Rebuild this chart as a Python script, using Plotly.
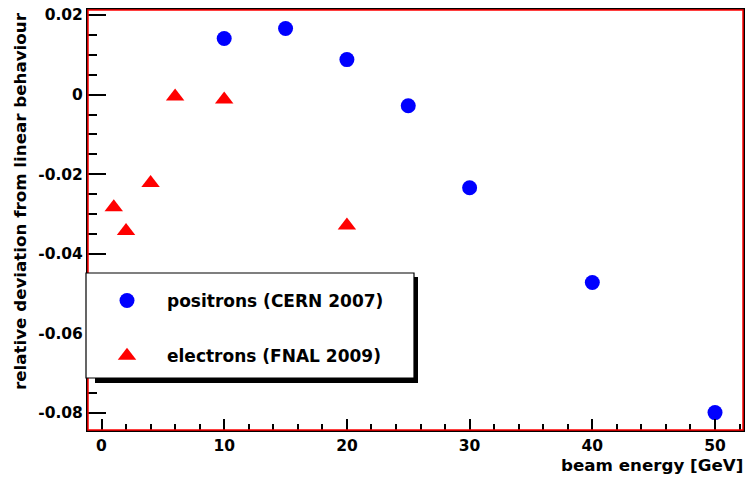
import plotly.graph_objects as go

# Data
pos_energy = [10, 15, 20, 25, 30, 40, 50]
pos_dev = [0.0141, 0.0166, 0.0088, -0.0028, -0.0234, -0.0472, -0.0799]

ele_energy = [1, 2, 4, 6, 10, 20]
ele_dev = [-0.0283, -0.0343, -0.0222, -0.0005, -0.0012, -0.0329]

pos_label = "positrons (CERN 2007)"
ele_label = "electrons (FNAL 2009)"
x_title = "beam energy [GeV]"
y_title = "relative deviation from linear behaviour"

x_tick_vals = [0, 10, 20, 30, 40, 50]
x_tick_text = ["0", "10", "20", "30", "40", "50"]
y_tick_vals = [0.02, 0, -0.02, -0.04, -0.06, -0.08]
y_tick_text = ["0.02", "0", "-0.02", "-0.04", "-0.06", "-0.08"]

FONT = "DejaVu Sans"
W, H = 746, 477
ML, MR, MT, MB = 88, 3, 10, 47
PW, PH = W - ML - MR, H - MT - MB


def px(x):
    return (x - ML) / PW


def py(y):
    return (H - MB - y) / PH


fig = go.Figure()
fig.add_trace(go.Scatter(
    x=pos_energy, y=pos_dev, mode="markers", name=pos_label,
    legendgroup="a",
    marker=dict(symbol="circle", size=15, color="#0000ff"),
))
fig.add_trace(go.Scatter(
    x=ele_energy, y=ele_dev, mode="markers", name=ele_label,
    legendgroup="b",
    marker=dict(symbol="triangle-up", size=16, color="#ff0000"),
))

tickfont = dict(family=FONT, size=15.5, color="black", weight="bold")

fig.update_xaxes(
    range=[-1.1, 52.28], tickvals=x_tick_vals, ticktext=x_tick_text,
    ticks="inside", ticklen=11,
    tickwidth=2, tickcolor="black", showgrid=False, zeroline=False,
    showline=True, linecolor="black", linewidth=2, mirror=True,
    tickfont=tickfont, automargin=False,
    minor=dict(dtick=2, tick0=0, ticks="inside", ticklen=6, tickwidth=2, tickcolor="black", showgrid=False),
)
fig.update_yaxes(
    range=[-0.08427, 0.02126], tickvals=y_tick_vals, ticktext=y_tick_text,
    ticks="inside", ticklen=18,
    tickwidth=2, tickcolor="black", showgrid=False, zeroline=False,
    showline=True, linecolor="black", linewidth=2, mirror=True,
    tickfont=tickfont, automargin=False,
    minor=dict(dtick=0.005, tick0=0, ticks="inside", ticklen=9, tickwidth=2, tickcolor="black", showgrid=False),
)

shapes = [
    # red inner frame
    dict(type="rect", xref="paper", yref="paper", x0=0, x1=1, y0=0, y1=1,
         line=dict(color="#ff0000", width=1.5), layer="above"),
    # legend shadow
    dict(type="rect", xref="paper", yref="paper", x0=px(95), x1=px(418),
         y0=py(383), y1=py(277), fillcolor="black", line=dict(width=0), layer="above"),
    # legend box
    dict(type="rect", xref="paper", yref="paper", x0=px(86), x1=px(414),
         y0=py(378), y1=py(273), fillcolor="white",
         line=dict(color="black", width=1.2), layer="above"),
]

annotations = [
    dict(text=y_title, xref="paper", yref="paper", x=px(20), y=1,
         xanchor="center", yanchor="top", textangle=-90, showarrow=False,
         font=dict(family=FONT, size=16.7, color="black", weight="bold")),
    dict(text=x_title, xref="paper", yref="paper", x=px(745), y=py(465),
         xanchor="right", yanchor="middle", showarrow=False,
         font=dict(family=FONT, size=16.7, color="black", weight="bold")),
]

fig.update_layout(
    width=W, height=H,
    margin=dict(l=ML, r=MR, t=MT, b=MB, pad=0, autoexpand=False),
    paper_bgcolor="white", plot_bgcolor="white",
    shapes=shapes, annotations=annotations,
    showlegend=True,
    legend=dict(
        x=px(87), y=py(283), xanchor="left", yanchor="top",
        bgcolor="rgba(0,0,0,0)", borderwidth=0,
        font=dict(family=FONT, size=17, color="black", weight="bold"),
        itemwidth=70, traceorder="grouped", tracegroupgap=30,
    ),
)

fig.write_html(
    "out.html",
    config={"displayModeBar": False},
    post_script="document.body.style.margin='0';document.body.style.padding='0';",
)
